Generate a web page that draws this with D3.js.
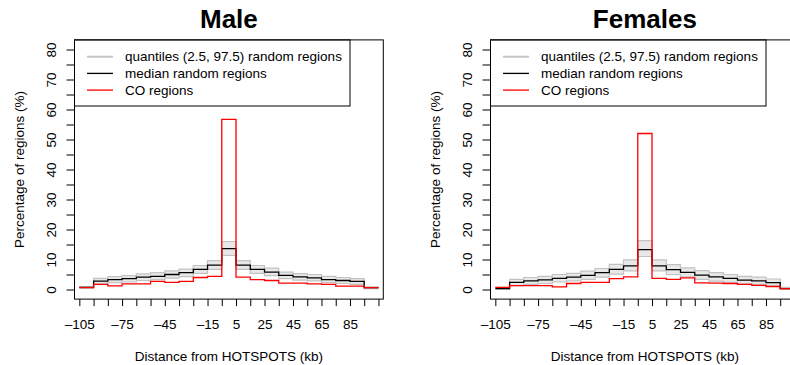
<!DOCTYPE html>
<html>
<head>
<meta charset="utf-8">
<script src="https://cdn.jsdelivr.net/npm/d3@7"></script>
<style>
  body { margin: 0; background: #fff; }
  svg { display: block; font-family: "Liberation Sans", Arial, sans-serif; }
</style>
</head>
<body>
<div id="chart"></div>
<script>
// bin starts (kb), each bin is 10 kb wide
const binStarts = [-105, -95, -85, -75, -65, -55, -45, -35, -25, -15, -5, 5, 15, 25, 35, 45, 55, 65, 75, 85, 95];
const xTicks = [-105, -95, -85, -75, -65, -55, -45, -35, -25, -15, -5, 5, 15, 25, 35, 45, 55, 65, 75, 85, 95, 105];
const xTickLabels = [-105, -75, -45, -15, 5, 25, 45, 65, 85];
const yTicks = [0, 5, 10, 15, 20, 25, 30, 35, 40, 45, 50, 55, 60, 65, 70, 75, 80];
const yTickLabels = [0, 10, 20, 30, 40, 50, 60, 70, 80];

// Male
const maleCO  = [0.6, 1.7, 1.2, 1.9, 1.9, 2.7, 2.4, 2.7, 4.0, 4.4, 56.7, 4.1, 3.3, 3.0, 2.1, 2.1, 1.9, 1.7, 1.1, 1.1, 0.6];
const maleMed = [0.7, 2.8, 3.3, 3.6, 4.1, 4.4, 5.0, 5.6, 6.7, 8.1, 13.6, 8.1, 6.7, 5.8, 4.7, 4.2, 3.9, 3.3, 3.0, 2.7, 0.6];
const maleLo  = [0.4, 1.9, 2.3, 2.5, 3.0, 3.3, 3.8, 4.3, 5.4, 6.7, 11.4, 6.7, 5.4, 4.6, 3.6, 3.1, 2.9, 2.3, 2.0, 1.7, 0.3];
const maleHi  = [1.0, 3.7, 4.3, 4.6, 5.2, 5.6, 6.2, 6.8, 8.0, 9.6, 16.0, 9.6, 8.0, 7.1, 5.8, 5.3, 5.0, 4.4, 4.0, 3.6, 0.9];

// Females
const femCO  = [0.7, 1.3, 1.3, 1.3, 0.9, 2.0, 2.4, 2.4, 3.6, 4.2, 52.0, 3.7, 3.4, 3.9, 2.2, 2.1, 2.0, 1.7, 1.4, 1.0, 0.3];
const femMed = [0.3, 2.4, 2.9, 3.2, 3.7, 4.1, 4.7, 5.6, 6.7, 7.9, 13.3, 7.9, 6.6, 5.7, 4.8, 4.2, 3.7, 3.1, 2.9, 2.3, 0.3];
const femLo  = [0.1, 1.3, 1.7, 2.0, 2.5, 2.9, 3.4, 4.1, 5.1, 6.2, 11.0, 6.2, 5.0, 4.2, 3.4, 2.8, 2.4, 1.9, 1.7, 1.2, 0.1];
const femHi  = [0.7, 3.4, 4.0, 4.4, 5.0, 5.4, 6.1, 7.0, 8.4, 9.9, 16.3, 9.9, 8.3, 7.2, 6.3, 5.6, 5.0, 4.4, 4.1, 3.5, 0.7];

const legendItems = [
  { label: "quantiles (2.5, 97.5) random regions", color: "#c6c6c6", width: 2 },
  { label: "median random regions", color: "#000000", width: 1.3 },
  { label: "CO regions", color: "#ff0000", width: 1.3 }
];

const W = 790, H = 365;
const svg = d3.select("#chart").append("svg").attr("width", W).attr("height", H);

function stepPoints(vals) {
  const pts = binStarts.map((b, i) => [b, vals[i]]);
  pts.push([binStarts[binStarts.length - 1] + 10, vals[vals.length - 1]]);
  return pts;
}

function drawPanel(offsetX, title, co, med, lo, hi) {
  const g = svg.append("g").attr("transform", `translate(${offsetX},0)`);
  const x = d3.scaleLinear().domain([-108.4, 108.4]).range([74.5, 383.3]);
  const y = d3.scaleLinear().domain([-3.2, 83.2]).range([299.1, 39.9]);
  const [x0, x1] = x.range();
  const [yb, yt] = y.range();

  // quantile band
  const band = binStarts.map((b, i) => ({ x: b, lo: lo[i], hi: hi[i] }));
  band.push({ x: 105, lo: lo[lo.length - 1], hi: hi[hi.length - 1] });
  g.append("path")
    .attr("d", d3.area().curve(d3.curveStepAfter).x(d => x(d.x)).y0(d => y(d.lo)).y1(d => y(d.hi))(band))
    .attr("fill", "#e8e8e8");

  const line = d3.line().curve(d3.curveStepAfter).x(d => x(d[0])).y(d => y(d[1]));
  [lo, hi].forEach(v => {
    g.append("path").attr("d", line(stepPoints(v)))
      .attr("fill", "none").attr("stroke", "#c2c2c2").attr("stroke-width", 1.2);
  });
  g.append("path").attr("d", line(stepPoints(med)))
    .attr("fill", "none").attr("stroke", "#000").attr("stroke-width", 1.3);
  g.append("path").attr("d", line(stepPoints(co)))
    .attr("fill", "none").attr("stroke", "#ff0000").attr("stroke-width", 1.3);

  // legend
  const lg = g.append("g");
  lg.append("rect").attr("x", x0).attr("y", yt).attr("width", 275.5).attr("height", 66.1)
    .attr("fill", "#fff").attr("stroke", "#000").attr("stroke-width", 1);
  legendItems.forEach((d, i) => {
    const ly = 56.7 + i * 16.7;
    lg.append("line").attr("x1", 87).attr("x2", 113).attr("y1", ly).attr("y2", ly)
      .attr("stroke", d.color).attr("stroke-width", d.width);
    lg.append("text").attr("x", 125).attr("y", ly).attr("dy", "0.35em")
      .attr("font-size", 13.5).text(d.label);
  });

  // box
  g.append("rect").attr("x", x0).attr("y", yt).attr("width", x1 - x0).attr("height", yb - yt)
    .attr("fill", "none").attr("stroke", "#000").attr("stroke-width", 1);

  // x axis
  const xa = g.append("g").attr("transform", `translate(0,${yb})`)
    .call(d3.axisBottom(x).tickValues(xTicks).tickSize(7).tickPadding(13)
      .tickFormat(d => xTickLabels.includes(d) ? (d < 0 ? "\u2013" + Math.abs(d) : String(d)) : ""));
  xa.select(".domain").remove();
  xa.attr("font-family", null);
  xa.selectAll("line").attr("stroke", "#000");
  xa.selectAll("text").attr("font-size", 13.5).attr("fill", "#000");

  // y axis
  const ya = g.append("g").attr("transform", `translate(${x0},0)`)
    .call(d3.axisLeft(y).tickValues(yTicks).tickSize(8)
      .tickFormat(d => yTickLabels.includes(d) ? String(d) : ""));
  ya.select(".domain").remove();
  ya.attr("font-family", null);
  ya.selectAll("line").attr("stroke", "#000");
  ya.selectAll("text").attr("font-size", 13.5).attr("fill", "#000")
    .attr("x", null).attr("dy", "0.35em").attr("text-anchor", "middle")
    .attr("transform", "translate(-23.5,0) rotate(-90)");

  // titles
  const cx = (x0 + x1) / 2;
  g.append("text").attr("x", cx).attr("y", 28).attr("text-anchor", "middle")
    .attr("font-size", 26).attr("font-weight", "bold").text(title);
  g.append("text").attr("x", cx).attr("y", 361).attr("text-anchor", "middle")
    .attr("font-size", 13.5).text("Distance from HOTSPOTS (kb)");
  g.append("text").attr("transform", `translate(19,${(yt + yb) / 2}) rotate(-90)`)
    .attr("dy", "0.35em").attr("text-anchor", "middle")
    .attr("font-size", 13.5).text("Percentage of regions (%)");
}

drawPanel(0, "Male", maleCO, maleMed, maleLo, maleHi);
drawPanel(416, "Females", femCO, femMed, femLo, femHi);
</script>
</body>
</html>
